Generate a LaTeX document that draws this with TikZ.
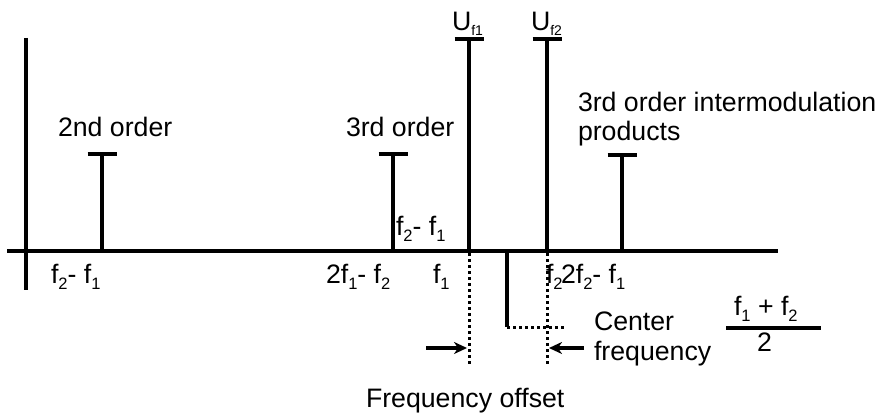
\documentclass[tikz,border=0pt]{standalone}
\usepackage{fontspec}
\setmainfont{Liberation Sans}
\usetikzlibrary{arrows.meta}
\newcommand\sbx[1]{\raisebox{-6.5pt}{\fontsize{16.5}{16.5}\selectfont #1}}
\newcommand\sbu[1]{\raisebox{-5pt}{\fontsize{14}{14}\selectfont #1}}
\tikzset{
  lbl/.style={anchor=base west, inner sep=0pt, outer sep=0pt, font=\fontsize{26.7}{30}\selectfont},
  thick3/.style={line width=3.5pt},
  dotln/.style={line width=3pt, dash pattern=on 3pt off 3pt},
  arr/.style={line width=3.5pt, -{Stealth[length=13pt,width=12pt,inset=4pt]}},
}
\begin{document}
\begin{tikzpicture}[x=1pt,y=-1pt]
\useasboundingbox (0,0) rectangle (877,414);
% axes
\coordinate (ytop) at (26,38);
\coordinate (ybot) at (26,290);
\coordinate (xl) at (7,251);
\coordinate (xr) at (778,251);
\draw[thick3] (ytop) -- (ybot);
\draw[thick3] (xl) -- (xr);
% spectral lines
\foreach \n/\x/\t in {a/102/154, b/393/154, c/469/39, d/547/39, e/622/155}{
  \coordinate (\n0) at (\x,251);
  \coordinate (\n1) at (\x,\t);
  \coordinate (\n2) at (\x-14.5,\t);
  \coordinate (\n3) at (\x+14.5,\t);
  \draw[thick3] (\n0) -- (\n1);
  \draw[thick3] (\n2) -- (\n3);
}
% center frequency marker
\coordinate (cf0) at (507,251);
\coordinate (cf1) at (507,327);
\coordinate (cf2) at (566,327);
\draw[thick3] (cf0) -- (cf1);
\draw[dotln] (cf1) -- (cf2);
% dotted verticals
\coordinate (d1a) at (469,253);
\coordinate (d1b) at (469,366);
\coordinate (d2a) at (547,253);
\coordinate (d2b) at (547,366);
\draw[dotln] (d1a) -- (d1b);
\draw[dotln] (d2a) -- (d2b);
% arrows
\coordinate (al) at (426,348);
\coordinate (alt) at (467,348);
\coordinate (ar) at (584,348);
\coordinate (art) at (549,348);
\draw[arr] (al) -- (alt);
\draw[arr] (ar) -- (art);
% fraction bar
\coordinate (fb1) at (726,328);
\coordinate (fb2) at (821,328);
\draw[thick3] (fb1) -- (fb2);
% labels
\node[lbl] (t2nd) at (58,137) {2nd order};
\node[lbl] (t3rd) at (346,137) {3rd order};
\node[lbl] (tim1) at (578,112) {3rd order intermodulation};
\node[lbl] (tim2) at (578,141) {products};
\node[lbl] (tu1) at (452,31) {U\sbu{f1}};
\node[lbl] (tu2) at (531,31) {U\sbu{f2}};
\node[lbl] (tdu) at (396,235) {f\sbx{2}- f\sbx{1}};
\node[lbl] (tb1) at (51,283) {f\sbx{2}- f\sbx{1}};
\node[lbl] (tb2) at (326,283) {2f\sbx{1}- f\sbx{2}};
\node[lbl] (tb3) at (433,283) {f\sbx{1}};
\node[lbl] (tb4) at (546,283) {f\sbx{2}};
\node[lbl] (tb5) at (561,283) {2f\sbx{2}- f\sbx{1}};
\node[lbl] (tc1) at (594,330) {Center};
\node[lbl] (tc2) at (594,360) {frequency};
\node[lbl] (tfn) at (734,315) {f\sbx{1} + f\sbx{2}};
\node[lbl] (tfd) at (757,351) {2};
\node[lbl] (tfo) at (366,407) {Frequency offset};
\end{tikzpicture}
\end{document}
